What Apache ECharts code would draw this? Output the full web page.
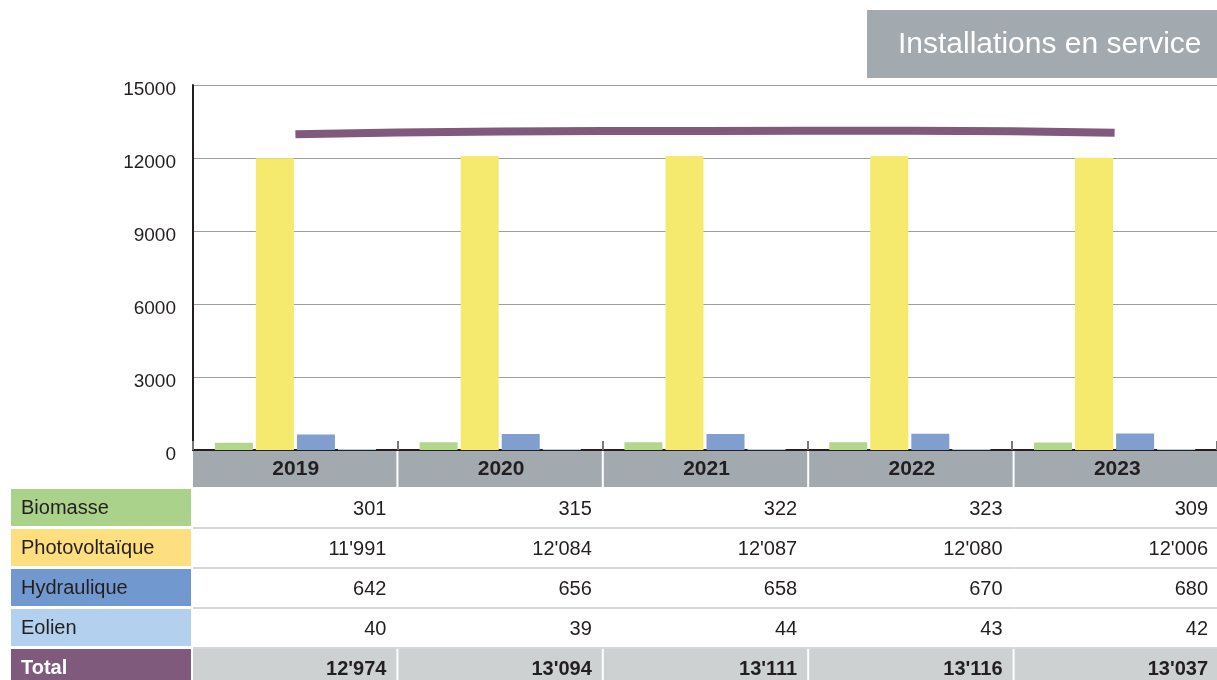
<!DOCTYPE html>
<html>
<head>
<meta charset="utf-8">
<script src="https://cdn.jsdelivr.net/npm/echarts@6/dist/echarts.min.js"></script>
<style>
  html, body { margin: 0; padding: 0; background: #fff; }
  #main { width: 1217px; height: 680px; }
</style>
</head>
<body>
<div id="main"></div>
<script>
var years = ['2019', '2020', '2021', '2022', '2023'];
var biomasse = [301, 315, 322, 323, 309];
var photovoltaique = [11991, 12084, 12087, 12080, 12006];
var hydraulique = [642, 656, 658, 670, 680];
var eolien = [40, 39, 44, 43, 42];
var total = [12974, 13094, 13111, 13116, 13037];
var yTicks = [0, 3000, 6000, 9000, 12000, 15000];

var rows = [
    { name: 'Biomasse', data: biomasse, color: '#AAD28A', bar: '#B3D68C' },
    { name: 'Photovoltaïque', data: photovoltaique, color: '#FDDF80', bar: '#F5E96E' },
    { name: 'Hydraulique', data: hydraulique, color: '#7299CF', bar: '#809FCF' },
    { name: 'Eolien', data: eolien, color: '#B3D1EE', bar: '#B8CCEA' }
];

var font = '"Liberation Sans", Arial, sans-serif';
var gridLeft = 193, gridTop = 85, gridH = 365, gridW = 1027;
var colW = gridW / years.length;

function fmt(v) {
    return String(v).replace(/\B(?=(\d{3})+(?!\d))/g, "'");
}

var myChart = echarts.init(document.getElementById('main'));

// table under the axis
var graphics = [];
var axisY = gridTop + gridH;
years.forEach(function (y, i) {
    var x0 = gridLeft + i * colW;
    graphics.push({
        type: 'rect', shape: { x: x0, y: axisY, width: colW - 2, height: 37 },
        style: { fill: '#A3AAAF' }
    });
    graphics.push({
        type: 'text', x: x0 + colW / 2, y: axisY + 19,
        style: { text: y, font: 'bold 21px ' + font, fill: '#231F20', align: 'center', verticalAlign: 'middle' }
    });
});
var allRows = rows.concat([{ name: 'Total', data: total, color: '#7F5A7C', total: true }]);
allRows.forEach(function (r, k) {
    var y0 = axisY + 40 + k * 40;
    graphics.push({
        type: 'rect', shape: { x: 11, y: y0 - 1, width: 180, height: 37 },
        style: { fill: r.color }
    });
    graphics.push({
        type: 'text', x: 21, y: y0 + 18,
        style: {
            text: r.name, font: (r.total ? 'bold ' : '') + '20px ' + font,
            fill: r.total ? '#fff' : '#231F20', verticalAlign: 'middle'
        }
    });
    years.forEach(function (yy, i) {
        var x0 = gridLeft + i * colW;
        if (r.total) {
            graphics.push({
                type: 'rect', shape: { x: x0, y: y0 - 1, width: colW - 2, height: 40 },
                style: { fill: '#CDD1D1' }
            });
        } else {
            graphics.push({
                type: 'rect', shape: { x: x0, y: y0 + 37, width: colW, height: 2 },
                style: { fill: '#D3D7D7' }
            });
        }
        graphics.push({
            type: 'text', x: x0 + colW - 12, y: y0 + 19,
            style: {
                text: fmt(r.data[i]), font: (r.total ? 'bold ' : '') + '20px ' + font,
                fill: '#231F20', align: 'right', verticalAlign: 'middle'
            }
        });
    });
});

// title box
graphics.push({
    type: 'rect', shape: { x: 867, y: 10, width: 360, height: 68 },
    style: { fill: '#A3AAAF' }
});
graphics.push({
    type: 'text', x: 898, y: 45,
    style: { text: 'Installations en service', font: '30px ' + font, fill: '#fff', verticalAlign: 'middle' }
});

var series = rows.map(function (r) {
    return {
        name: r.name, type: 'bar', data: r.data,
        barWidth: 38, barGap: '8%',
        itemStyle: { color: r.bar }
    };
});
series.push({
    name: 'Total', type: 'line', data: total, smooth: true,
    symbol: 'none', z: 5,
    lineStyle: { color: '#7F5A7C', width: 8 }
});

var option = {
    animation: false,
    textStyle: { fontFamily: font },
    grid: { left: gridLeft, top: gridTop, width: gridW, height: gridH },
    xAxis: {
        type: 'category', data: years,
        axisLine: { lineStyle: { color: '#231F20', width: 2 } },
        axisTick: { show: true, inside: true, length: 9, lineStyle: { color: '#777', width: 2 } },
        axisLabel: { show: false }
    },
    yAxis: {
        type: 'value', min: 0, max: yTicks[yTicks.length - 1], interval: 3000,
        axisLine: { show: true, lineStyle: { color: '#231F20', width: 2 } },
        axisTick: { show: false },
        axisLabel: {
            fontSize: 19, color: '#231F20', margin: 17,
            verticalAlign: 'top', lineHeight: 10,
            formatter: function (v) { return String(v); }
        },
        splitLine: { lineStyle: { color: '#9A9FA3', width: 1 } }
    },
    series: series,
    graphic: graphics
};

myChart.setOption(option);
</script>
</body>
</html>
